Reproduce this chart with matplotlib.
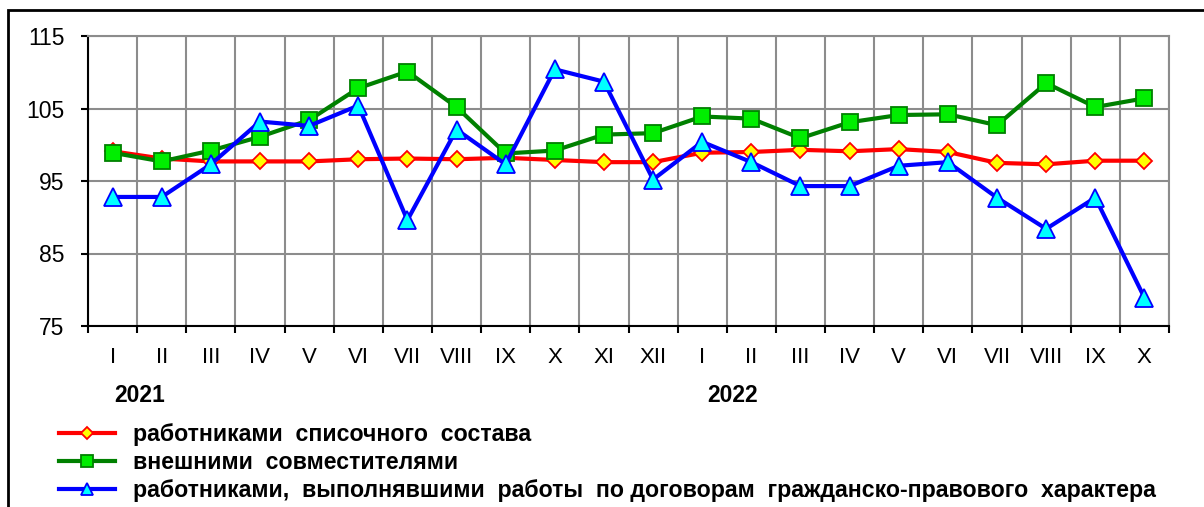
import matplotlib
matplotlib.use("Agg")
import matplotlib.pyplot as plt
from matplotlib.patches import Rectangle

plt.rcParams['font.family'] = ['Liberation Sans', 'DejaVu Sans']

months = ['I', 'II', 'III', 'IV', 'V', 'VI', 'VII', 'VIII', 'IX', 'X', 'XI', 'XII',
          'I', 'II', 'III', 'IV', 'V', 'VI', 'VII', 'VIII', 'IX', 'X']
years = ['2021', '2022']

# работники списочного состава
staff = [99.1, 98.1, 97.7, 97.7, 97.7, 98.0, 98.1, 98.0, 98.2, 97.9, 97.6, 97.6,
         98.9, 99.0, 99.3, 99.1, 99.4, 99.0, 97.5, 97.3, 97.8, 97.8]
# внешние совместители
external = [98.9, 97.7, 99.2, 101.1, 103.4, 107.8, 110.1, 105.2, 98.8, 99.2, 101.4, 101.6,
            103.9, 103.6, 100.9, 103.1, 104.1, 104.2, 102.7, 108.5, 105.2, 106.4]
# работники по договорам ГПХ
contract = [92.8, 92.8, 97.3, 103.2, 102.6, 105.4, 89.6, 102.1, 97.3, 110.4, 108.7, 95.2,
            100.4, 97.6, 94.3, 94.3, 97.1, 97.6, 92.7, 88.4, 92.7, 78.9]

labels = ['работниками  списочного  состава',
          'внешними  совместителями',
          'работниками,  выполнявшими  работы  по договорам  гражданско-правового  характера']

fig = plt.figure(figsize=(12.04, 5.07), dpi=100)
ax = fig.add_axes([88 / 1204, 1 - 326 / 507, (1169 - 88) / 1204, (326 - 36) / 507])

x = list(range(len(months)))
l1, = ax.plot(x, staff, color='#ff0000', lw=3, marker='D', ms=8,
              mfc='#ffff00', mec='#ff0000', mew=1.3, zorder=3)
l2, = ax.plot(x, external, color='#008000', lw=3, marker='s', ms=12,
              mfc='#00ee00', mec='#008000', mew=1.3, zorder=4)
l3, = ax.plot(x, contract, color='#0000ff', lw=3, marker='^', ms=12.5,
              mfc='#00ffff', mec='#0000ff', mew=1.3, zorder=5)

ax.set_xlim(-0.5, len(months) - 0.5)
ax.set_ylim(75, 115)
ax.set_yticks([75, 85, 95, 105, 115])
ax.set_xticks([i - 0.5 for i in range(len(months) + 1)])
ax.set_xticklabels([])
ax.set_xticks(x, minor=True)
ax.set_xticklabels(months, minor=True)
ax.tick_params(axis='x', which='minor', length=0, pad=15, labelsize=16)
ax.tick_params(axis='x', which='major', length=5, width=1.5, direction='out')
ax.tick_params(axis='y', length=5, width=1.5, labelsize=16.5, pad=12)
ax.grid(True, which='major', color='#8c8c8c', lw=1.5)
ax.set_axisbelow(True)
for s in ['top', 'right']:
    ax.spines[s].set_color('#8c8c8c')
    ax.spines[s].set_linewidth(1.5)
for s in ['left', 'bottom']:
    ax.spines[s].set_color('black')
    ax.spines[s].set_linewidth(1.5)

fig.text(140 / 1204, 1 - 395 / 507, years[0], fontsize=16.5, fontweight='bold',
         ha='center', va='center')
fig.text(733 / 1204, 1 - 395 / 507, years[1], fontsize=16.5, fontweight='bold',
         ha='center', va='center')

leg = fig.legend([l1, l2, l3], labels, loc='upper left',
                 bbox_to_anchor=(59 / 1204, 1 - 423 / 507), frameon=False,
                 prop={'weight': 'bold', 'size': 16.7}, handlelength=2.4,
                 labelspacing=0.22, handletextpad=0.8, borderaxespad=0,
                 borderpad=0, markerscale=0.72)

fig.add_artist(Rectangle((8 / 1204, -0.05), 1.0, 1 - 10 / 507 + 0.05,
                         transform=fig.transFigure, fill=False,
                         edgecolor='black', lw=2))

fig.savefig('out.png', dpi=100)
